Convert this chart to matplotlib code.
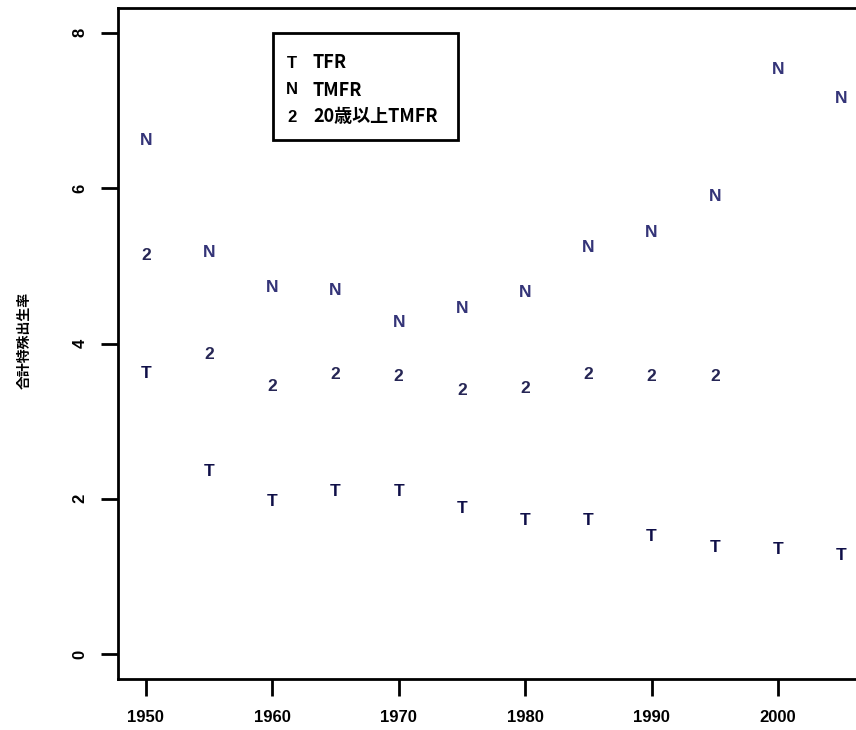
import numpy as np
import matplotlib
import matplotlib.pyplot as plt
from matplotlib.patches import Rectangle

matplotlib.use('Agg')
plt.rcParams['font.family'] = ['Liberation Sans Narrow', 'Liberation Sans', 'Noto Sans CJK JP', 'DejaVu Sans']

# ------------------------ data ------------------------
years = [1950, 1955, 1960, 1965, 1970, 1975, 1980, 1985, 1990, 1995, 2000, 2005]
tfr = [3.62, 2.35, 1.96, 2.09, 2.09, 1.88, 1.72, 1.72, 1.51, 1.37, 1.35, 1.27]
tmfr = [6.62, 5.17, 4.72, 4.68, 4.27, 4.45, 4.66, 5.23, 5.43, 5.89, 7.53, 7.16]
years_20 = [1950, 1955, 1960, 1965, 1970, 1975, 1980, 1985, 1990, 1995]
tmfr_20 = [5.13, 3.86, 3.45, 3.60, 3.58, 3.40, 3.42, 3.60, 3.58, 3.58]

symbols = ["T", "N", "2"]
labels = ["TFR", "TMFR", "20歳以上TMFR"]
colors = ["#0f0f48", "#343478", "#262655"]
x_ticks = [1950, 1960, 1970, 1980, 1990, 2000]
y_ticks = [0, 2, 4, 6, 8]

# ------------------------ plot ------------------------
fig = plt.figure(figsize=(8.56, 7.30), dpi=100)
ax = fig.add_axes([118/856, 51/730, 751/856, 671/730])

series = [(years, tfr), (years, tmfr), (years_20, tmfr_20)]
for (xs, ys), sym, col in zip(series, symbols, colors):
    for x, y in zip(xs, ys):
        ax.text(x, y, sym, ha="center", va="center", color=col,
                fontsize=12.5, fontweight="bold")

ax.set_xlim(1947.8, 2007.2)
ax.set_ylim(-0.32, 8.32)
ax.set_xticks(x_ticks)
ax.set_yticks(y_ticks)
ax.set_xticklabels([str(v) for v in x_ticks], fontsize=12, fontweight="bold")
ax.set_yticklabels([str(v) for v in y_ticks], fontsize=12, fontweight="bold",
                   rotation=90, va="center")
ax.tick_params(direction="out", length=12, width=2, pad=10)
for s in ax.spines.values():
    s.set_linewidth(2)

ax.set_ylabel("合計特殊出生率", fontsize=10, fontweight="bold",
              family=['Noto Sans CJK JP'])
ax.yaxis.set_label_coords(-0.115, 0.505)

# legend drawn like R's legend()
lx0, lx1 = (273-118)/751, (458-118)/751
ly0, ly1 = (679-140)/671, (679-33)/671
ax.add_patch(Rectangle((lx0, ly0), lx1-lx0, ly1-ly0, transform=ax.transAxes,
                       fill=False, lw=2, ec="black", clip_on=False))
row_y = [63, 90, 117]
for py, sym, lab, col in zip(row_y, symbols, labels, colors):
    yy = (679-py)/671
    ax.text((292-118)/751, yy, sym, transform=ax.transAxes, ha="center",
            va="center", fontsize=12, fontweight="bold", color="black")
    ax.text((313-118)/751, yy, lab, transform=ax.transAxes, ha="left",
            va="center", fontsize=13, fontweight="bold", color="black",
            family=['Liberation Sans Narrow', 'Noto Sans CJK JP'])

plt.savefig("out.png", dpi=100)
